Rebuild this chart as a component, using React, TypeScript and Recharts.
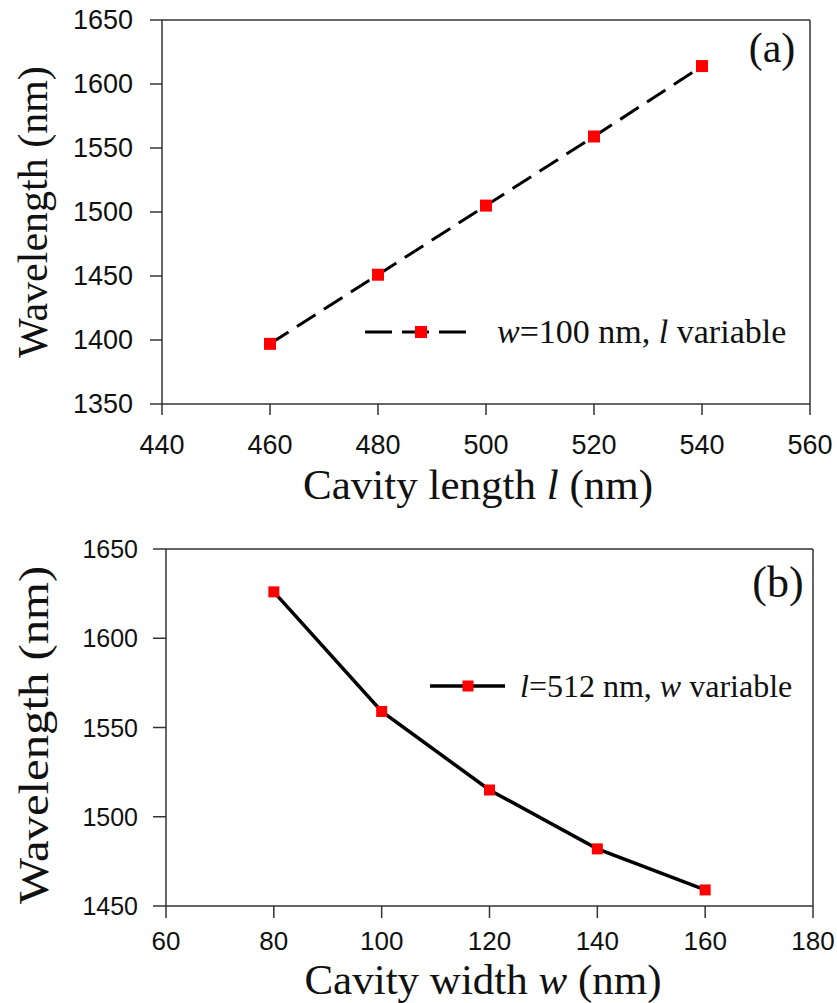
import React from 'react';
import { LineChart, Line, XAxis, YAxis, ReferenceLine, Customized } from 'recharts';

const lengthCategories = [460, 480, 500, 520, 540];
const lengthWavelengths = [1397, 1451, 1505, 1559, 1614];
const widthCategories = [80, 100, 120, 140, 160];
const widthWavelengths = [1626, 1559, 1515, 1482, 1459];

const xTicksA = [440, 460, 480, 500, 520, 540, 560];
const yTicksA = [1350, 1400, 1450, 1500, 1550, 1600, 1650];
const xTicksB = [60, 80, 100, 120, 140, 160, 180];
const yTicksB = [1450, 1500, 1550, 1600, 1650];

const dataA = lengthCategories.map((l, i) => ({ x: l, y: lengthWavelengths[i] }));
const dataB = widthCategories.map((w, i) => ({ x: w, y: widthWavelengths[i] }));

const SANS = '"Liberation Sans", Arial, sans-serif';
const SERIF = '"Liberation Serif", "Times New Roman", serif';
const AXIS = '#333';

const SquareDot = (size: number) => (props: any) => {
  const { cx, cy } = props;
  if (cx == null || cy == null) return null;
  return <rect x={cx - size / 2} y={cy - size / 2} width={size} height={size} fill="#ff0000" />;
};

const YTickA = (props: any) => (
  <text x={props.x} y={props.y} textAnchor="end" dominantBaseline="central" fontSize={27} fontFamily={SANS} fill="#111">
    {props.payload.value}
  </text>
);
const XTickA = (props: any) => (
  <text x={props.x} y={props.y + 39} textAnchor="middle" fontSize={27} fontFamily={SANS} fill="#111">
    {props.payload.value}
  </text>
);
const YTickB = (props: any) => (
  <text x={props.x} y={props.y} textAnchor="end" dominantBaseline="central" fontSize={25} fontFamily={SANS} fill="#111">
    {props.payload.value}
  </text>
);
const XTickB = (props: any) => (
  <text x={props.x} y={props.y + 32} textAnchor="middle" fontSize={26} fontFamily={SANS} fill="#111">
    {props.payload.value}
  </text>
);

const OverlayA = () => (
  <g>
    <text transform="translate(47,212) rotate(-90)" textAnchor="middle" fontSize={42} fontFamily={SERIF} fill="#111">
      Wavelength (nm)
    </text>
    <text x={478} y={499} textAnchor="middle" fontSize={43} fontFamily={SERIF} fill="#111">
      Cavity length <tspan fontStyle="italic">l</tspan> (nm)
    </text>
    <text x={772} y={62} textAnchor="middle" fontSize={42} fontFamily={SERIF} fill="#111">(a)</text>
    <line x1={365} y1={332} x2={467} y2={332} stroke="#000" strokeWidth={3} strokeDasharray="27 10" />
    <rect x={415} y={326} width={12} height={12} fill="#ff0000" />
    <text x={497} y={343} fontSize={34} fontFamily={SERIF} fill="#111">
      <tspan fontStyle="italic">w</tspan>=100 nm, <tspan fontStyle="italic">l</tspan> variable
    </text>
  </g>
);

const OverlayB = () => (
  <g>
    <text transform="translate(48,215) rotate(-90) scale(1.16,1)" textAnchor="middle" fontSize={42} fontFamily={SERIF} fill="#111">
      Wavelength (nm)
    </text>
    <text x={483} y={474} textAnchor="middle" fontSize={43} fontFamily={SERIF} fill="#111">
      Cavity width <tspan fontStyle="italic">w</tspan> (nm)
    </text>
    <text x={778} y={77} textAnchor="middle" fontSize={44} fontFamily={SERIF} fill="#111">(b)</text>
    <line x1={430} y1={166} x2={505} y2={166} stroke="#000" strokeWidth={3.5} />
    <rect x={462.5} y={160.5} width={11} height={11} fill="#ff0000" />
    <text x={520} y={177} fontSize={32} fontFamily={SERIF} fill="#111">
      <tspan fontStyle="italic">l</tspan>=512 nm, <tspan fontStyle="italic">w</tspan> variable
    </text>
  </g>
);

export default function App() {
  return (
    <div style={{ position: 'absolute', left: 0, top: 0, width: 837, height: 1003, background: '#fff' }}>
      <div style={{ position: 'absolute', left: 0, top: 0 }}>
        <LineChart width={837} height={520} data={dataA} margin={{ top: 20, right: 27, bottom: 0, left: 0 }}>
          <XAxis
            dataKey="x"
            type="number"
            domain={[440, 560]}
            ticks={xTicksA}
            height={116}
            tickSize={11}
            tickMargin={0}
            tick={<XTickA />}
            axisLine={{ stroke: AXIS, strokeWidth: 1.5 }}
            tickLine={{ stroke: AXIS, strokeWidth: 1.5 }}
          />
          <YAxis
            dataKey="y"
            type="number"
            domain={[1350, 1650]}
            ticks={yTicksA}
            width={162}
            tickSize={12}
            tickMargin={17}
            tick={<YTickA />}
            axisLine={{ stroke: AXIS, strokeWidth: 1.5 }}
            tickLine={{ stroke: AXIS, strokeWidth: 1.5 }}
          />
          <ReferenceLine y={1650} stroke={AXIS} strokeWidth={1.5} />
          <ReferenceLine x={560} stroke={AXIS} strokeWidth={1.5} />
          <Line
            dataKey="y"
            stroke="#000"
            strokeWidth={3}
            strokeDasharray="22 10"
            dot={SquareDot(12)}
            activeDot={false}
            isAnimationActive={false}
          />
          <Customized component={OverlayA} />
        </LineChart>
      </div>
      <div style={{ position: 'absolute', left: 0, top: 520 }}>
        <LineChart width={837} height={483} data={dataB} margin={{ top: 29, right: 24, bottom: 0, left: 0 }}>
          <XAxis
            dataKey="x"
            type="number"
            domain={[60, 180]}
            ticks={xTicksB}
            height={97}
            tickSize={12}
            tickMargin={0}
            tick={<XTickB />}
            axisLine={{ stroke: AXIS, strokeWidth: 1.5 }}
            tickLine={{ stroke: AXIS, strokeWidth: 1.5 }}
          />
          <YAxis
            dataKey="y"
            type="number"
            domain={[1450, 1650]}
            ticks={yTicksB}
            width={166}
            tickSize={13}
            tickMargin={15}
            tick={<YTickB />}
            axisLine={{ stroke: AXIS, strokeWidth: 1.5 }}
            tickLine={{ stroke: AXIS, strokeWidth: 1.5 }}
          />
          <ReferenceLine y={1650} stroke={AXIS} strokeWidth={1.5} />
          <ReferenceLine x={180} stroke={AXIS} strokeWidth={1.5} />
          <Line
            dataKey="y"
            stroke="#000"
            strokeWidth={3.5}
            dot={SquareDot(11)}
            activeDot={false}
            isAnimationActive={false}
          />
          <Customized component={OverlayB} />
        </LineChart>
      </div>
    </div>
  );
}
